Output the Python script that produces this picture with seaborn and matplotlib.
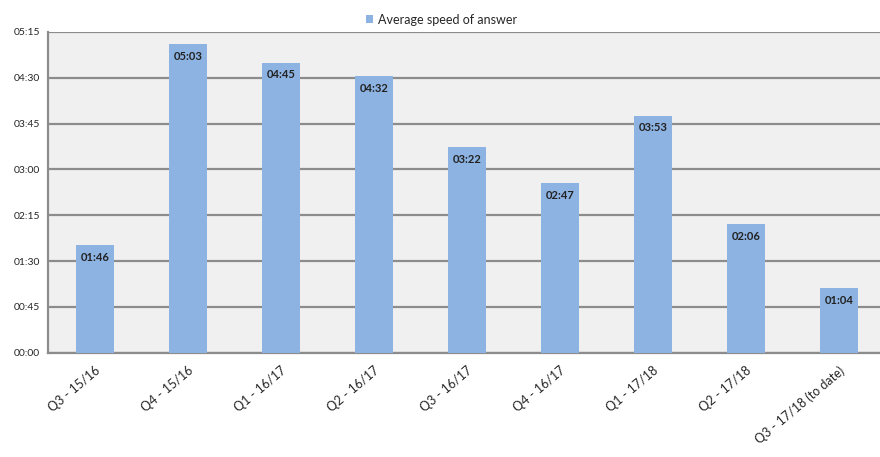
import matplotlib
matplotlib.use("Agg")
import matplotlib.pyplot as plt
import matplotlib.ticker as mticker
import seaborn as sns
import pandas as pd

# quarters and average speed of answer (mm:ss)
quarters = ["Q3 - 15/16", "Q4 - 15/16", "Q1 - 16/17", "Q2 - 16/17", "Q3 - 16/17",
            "Q4 - 16/17", "Q1 - 17/18", "Q2 - 17/18", "Q3 - 17/18 (to date)"]
speed_labels = ["01:46", "05:03", "04:45", "04:32", "03:22", "02:47", "03:53", "02:06", "01:04"]


def to_seconds(s):
    m, sec = s.split(":")
    return int(m) * 60 + int(sec)


df = pd.DataFrame({"quarter": quarters,
                   "seconds": [to_seconds(s) for s in speed_labels]})

sns.set_style("white")
plt.rcParams["font.family"] = ["Lato", "DejaVu Sans"]

fig = plt.figure(figsize=(8.8, 4.57), dpi=100)
ax = fig.add_axes([0.055, 0.228, 0.951, 0.702])
ax.set_facecolor("#f0f0f0")

sns.barplot(data=df, x="quarter", y="seconds", color="#8db3e2", width=0.41,
            saturation=1, linewidth=0, ax=ax, zorder=3,
            label="Average speed of answer")

for i, (v, lab) in enumerate(zip(df["seconds"], speed_labels)):
    ax.annotate(lab, (i, v), xytext=(0, -5), textcoords="offset points",
                ha="center", va="top", fontsize=8, fontweight="bold",
                color="#222222", zorder=4)

ax.set_ylim(0, 315)
ax.set_xlim(-0.5, len(quarters) - 0.5)
ax.yaxis.set_major_locator(mticker.MultipleLocator(45))
ax.yaxis.set_major_formatter(mticker.FuncFormatter(
    lambda v, p: "%02d:%02d" % (int(v) // 60, int(v) % 60)))
ax.grid(axis="y", color="#8c8c8c", linewidth=1.6, zorder=0)
ax.set_axisbelow(True)

ax.set_xticks(range(len(quarters)))
ax.set_xticklabels(quarters, rotation=40, ha="right", rotation_mode="anchor",
                   fontsize=9)
ax.xaxis.set_minor_locator(mticker.FixedLocator([i + 0.5 for i in range(-1, len(quarters))]))
ax.tick_params(axis="x", which="major", length=0, pad=8)
ax.tick_params(axis="x", which="minor", length=5, color="#8c8c8c", width=1.2)
ax.tick_params(axis="y", length=4, color="#8c8c8c", width=1.2, labelsize=7.5, pad=2)

for side in ["top", "right"]:
    ax.spines[side].set_visible(False)
for side in ["left", "bottom"]:
    ax.spines[side].set_color("#8c8c8c")
    ax.spines[side].set_linewidth(1.6)

ax.set_xlabel("")
ax.set_ylabel("")

leg = ax.legend(loc="lower center", bbox_to_anchor=(0.47, 1.0), frameon=False,
                fontsize=9, handlelength=0.6, handleheight=0.6, handletextpad=0.4,
                borderaxespad=0.1)

plt.savefig("out.png", dpi=100)
plt.close()
